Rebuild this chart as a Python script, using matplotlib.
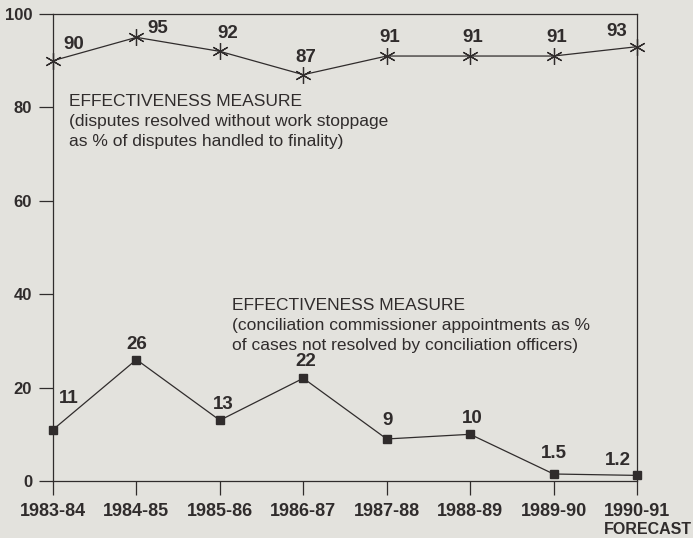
import matplotlib.pyplot as plt
import numpy as np

plt.rcParams['font.family'] = ['Liberation Sans', 'DejaVu Sans']

years = ["1983-84", "1984-85", "1985-86", "1986-87", "1987-88", "1988-89", "1989-90", "1990-91"]
disputes_pct = [90, 95, 92, 87, 91, 91, 91, 93]
commissioner_pct = [11, 26, 13, 22, 9, 10, 1.5, 1.2]
top_labels = ["90", "95", "92", "87", "91", "91", "91", "93"]
low_labels = ["11", "26", "13", "22", "9", "10", "1.5", "1.2"]

# label offsets in pixels (dx, dy) from each point
top_off = [(21, 16), (21, 9), (8, 18), (3, 17), (3, 19), (3, 19), (3, 19), (-20, 15)]
low_off = [(16, 31), (0, 15), (3, 16), (2, 17), (1, 18), (2, 16), (0, 20), (-19, 15)]

bg = "#e3e2dd"
ink = "#302c2c"

fig = plt.figure(figsize=(6.93, 5.38), dpi=100, facecolor=bg)
ax = fig.add_axes([53/693, (538-481)/538, 584/693, 467/538])
ax.set_facecolor(bg)

x = np.arange(len(years))
ax.plot(x, disputes_pct, color=ink, lw=0.9, marker=(6, 2, 0), ms=12, mew=0.9,
        clip_on=False, zorder=3)
ax.plot(x, commissioner_pct, color=ink, lw=0.9, marker="s", ms=6, mfc=ink, mec=ink,
        clip_on=False, zorder=3)

for xi, v, t, o in zip(x, disputes_pct, top_labels, top_off):
    ax.annotate(t, (xi, v), xytext=o, textcoords="offset pixels", ha="center", va="center",
                fontsize=13.5, fontweight="bold", color=ink)
for xi, v, t, o in zip(x, commissioner_pct, low_labels, low_off):
    ax.annotate(t, (xi, v), xytext=o, textcoords="offset pixels", ha="center", va="center",
                fontsize=13.5, fontweight="bold", color=ink)

ax.text(0.19, 82.8, "EFFECTIVENESS MEASURE\n(disputes resolved without work stoppage\n"
        "as % of disputes handled to finality)", ha="left", va="top",
        fontsize=12.5, color=ink, linespacing=1.4)
ax.text(2.15, 39.1, "EFFECTIVENESS MEASURE\n(conciliation commissioner appointments as %\n"
        "of cases not resolved by conciliation officers)", ha="left", va="top",
        fontsize=12.5, color=ink, linespacing=1.4)

ax.set_xlim(0, 7)
ax.set_ylim(0, 100)
ax.set_xticks(x)
ax.set_xticklabels(years, fontsize=13, fontweight="bold", color=ink)
ax.set_yticks(np.arange(0, 101, 20))
ax.set_yticklabels([str(v) for v in range(0, 101, 20)], fontsize=12, fontweight="bold", color=ink)
ax.tick_params(axis="x", length=10, width=0.9, color=ink, pad=6)
ax.tick_params(axis="y", length=10, width=0.9, color=ink, pad=5)
for s in ax.spines.values():
    s.set_color(ink)
    s.set_linewidth(0.9)

fig.text(692/693, 1 - 530/538, "FORECAST", ha="right", va="center",
         fontsize=11.5, fontweight="bold", color=ink)

fig.savefig("out.png", dpi=100, facecolor=bg)
